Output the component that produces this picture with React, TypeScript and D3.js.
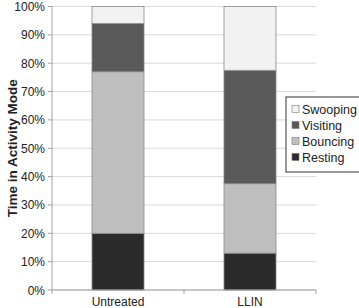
import React from "react";
import * as d3 from "d3";

const categories = ["Untreated", "LLIN"];
const series = ["Resting", "Bouncing", "Visiting", "Swooping"];
const resting = [20, 13];
const bouncing = [57, 24.5];
const visiting = [17, 40];
const swooping = [6, 22.5];
const yTicks = [0, 10, 20, 30, 40, 50, 60, 70, 80, 90, 100];
const colors = ["#2b2b2b", "#bfbfbf", "#595959", "#f2f2f2"];

export default function App() {
  const W = 359, H = 308;
  const left = 52, right = 316, top = 6.5, bottom = 290;
  const x = d3.scaleBand().domain(categories).range([left, right]).paddingInner(0.606).paddingOuter(0.303);
  const y = d3.scaleLinear().domain([0, 100]).range([bottom, top]);
  const rows = categories.map((c, i) => ({ cat: c, Resting: resting[i], Bouncing: bouncing[i], Visiting: visiting[i], Swooping: swooping[i] }));
  const stacked = d3.stack<any>().keys(series)(rows);
  const font = "Arial, 'Liberation Sans', sans-serif";
  const legendOrder = [...series].reverse();
  const catStep = (right - left) / categories.length;
  return (
    <svg width={W} height={H} style={{ position: "absolute", left: 0, top: 0, background: "#fff" }}>
      {yTicks.map((t) => (
        <g key={t}>
          <line x1={left} x2={right} y1={y(t)} y2={y(t)} stroke="#d9d9d9" strokeWidth={1} />
          <line x1={left - 4} x2={left} y1={y(t)} y2={y(t)} stroke="#a0a0a0" />
          <text x={45} y={y(t) + 4.5} textAnchor="end" fontSize={12} fontFamily={font} fill="#222">{t}%</text>
        </g>
      ))}
      {stacked.map((s, si) => (
        <g key={s.key}>
          {s.map((d, i) => (
            <rect key={i} x={x(categories[i])} width={x.bandwidth()} y={y(d[1])} height={y(d[0]) - y(d[1])}
              fill={colors[si]} stroke="#8a8a8a" strokeWidth={0.8} />
          ))}
        </g>
      ))}
      <line x1={left} x2={left} y1={top} y2={bottom} stroke="#a0a0a0" />
      <line x1={left} x2={right} y1={bottom} y2={bottom} stroke="#a0a0a0" />
      {[0, 1, 2].map((k) => (
        <line key={k} x1={left + k * catStep} x2={left + k * catStep} y1={bottom} y2={bottom + 4} stroke="#a0a0a0" />
      ))}
      {categories.map((c) => (
        <text key={c} x={(x(c) as number) + x.bandwidth() / 2} y={306} textAnchor="middle" fontSize={12} fontFamily={font} fill="#222">{c}</text>
      ))}
      <text transform={`translate(17,${(top + bottom) / 2}) rotate(-90)`} textAnchor="middle" fontSize={13.5} fontWeight="bold" fontFamily={font} fill="#222">Time in Activity Mode</text>
      <rect x={286} y={97} width={74} height={75} fill="#fff" stroke="#333" strokeWidth={1} />
      {legendOrder.map((s, i) => {
        const ci = series.indexOf(s);
        const cy = 109 + i * 16;
        return (
          <g key={s}>
            <rect x={292} y={cy - 3.5} width={7} height={7} fill={colors[ci]} stroke="#777" strokeWidth={0.6} />
            <text x={302} y={cy + 4.5} fontSize={12.5} fontFamily={font} fill="#222">{s}</text>
          </g>
        );
      })}
    </svg>
  );
}
